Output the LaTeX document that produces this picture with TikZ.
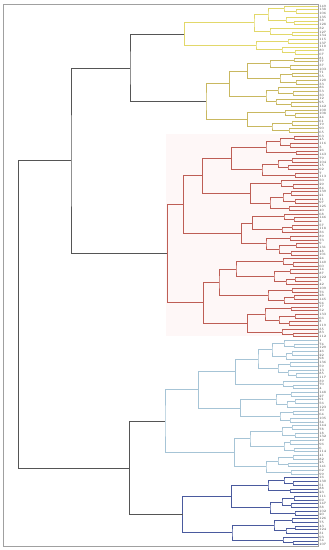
\documentclass[tikz,border=0pt]{standalone}
\usetikzlibrary{calc}
\definecolor{ycol}{HTML}{E2D86A}
\definecolor{kcol}{HTML}{C9B860}
\definecolor{rcol}{HTML}{BE5E55}
\definecolor{bcol}{HTML}{A6C4D6}
\definecolor{ncol}{HTML}{4A5A9E}
\definecolor{gcol}{HTML}{555555}
\definecolor{framecol}{HTML}{A0A0A0}
\definecolor{pinkbg}{HTML}{FEF7F7}
\newcommand\dmerge[4]{%
  \coordinate (#1tmp) at ($(#3)!0.5!(#4)$);
  \coordinate (#1) at (#2,0 |- #1tmp);
  \draw (#3) -| (#1) |- (#4);}
\tikzset{
  lab/.style={font=\fontsize{3.3}{3.3}\selectfont, anchor=west, inner sep=0.2pt, text=black!75, xshift=1pt},
  tree/.style={line width=0.6pt},
  frm/.style={draw=framecol, line width=0.6pt}
}
\begin{document}
\begin{tikzpicture}[x=1pt,y=-1pt]
\useasboundingbox (0,0) rectangle (329,550);
\fill[pinkbg] (166,134) rectangle (318,336);
\draw[frm] (3.3,4) rectangle (318,546);
\foreach \t [count=\c from 0] in {149,138,106,135,58,128,32,127,134,115,137,110,80,67,81,77,37,103,71,55,120,33,86,53,30,12,95,142,100,108,44,61,19,90,65,63,45,116,3,26,143,79,104,15,92,7,113,50,29,84,139,21,11,97,125,40,68,146,2,57,118,36,89,73,9,131,48,101,24,140,60,14,87,122,5,42,109,76,28,145,94,17,52,133,66,8,119,35,83,112,1,74,129,46,22,98,136,59,13,85,117,39,70,4,148,27,91,56,123,10,64,105,34,144,78,18,132,49,96,6,114,41,82,25,141,62,99,16,130,51,88,23,111,69,147,38,102,20,126,75,43,124,31,93,54,107}{
  \coordinate (l\c) at (318,{6+3.714*\c});
  \node[lab] (t\c) at (l\c) {\t};
}
% yellow
\begin{scope}[tree,color=ycol]
\dmerge{y1}{296}{l1}{l2}
\dmerge{y2}{284}{l0}{y1}
\dmerge{y3}{294}{l4}{l5}
\dmerge{y4}{286}{l3}{y3}
\dmerge{y5}{268}{y2}{y4}
\dmerge{y6}{292}{l7}{l8}
\dmerge{y7}{270}{l6}{y6}
\dmerge{y8}{254}{y5}{y7}
\dmerge{y9}{288}{l9}{l10}
\dmerge{y10}{295}{l12}{l13}
\dmerge{y11}{282}{l11}{y10}
\dmerge{y12}{256}{y9}{y11}
\dmerge{Y}{184.3}{y8}{y12}
\end{scope}
% khaki
\begin{scope}[tree,color=kcol]
\dmerge{k1}{294}{l14}{l15}
\dmerge{k2}{290}{l16}{l17}
\dmerge{k3}{270}{k1}{k2}
\dmerge{k4}{292}{l18}{l19}
\dmerge{k5}{296}{l20}{l21}
\dmerge{k6}{280}{k4}{k5}
\dmerge{k7}{247.3}{k3}{k6}
\dmerge{k8}{293}{l23}{l24}
\dmerge{k9}{278}{l22}{k8}
\dmerge{k10}{291}{l26}{l27}
\dmerge{k11}{276}{l25}{k10}
\dmerge{k12}{266}{k9}{k11}
\dmerge{k13}{229.3}{k7}{k12}
\dmerge{k14}{295}{l29}{l30}
\dmerge{k15}{285}{l28}{k14}
\dmerge{k16}{292}{l31}{l32}
\dmerge{k17}{289}{l33}{l34}
\dmerge{k18}{272}{k16}{k17}
\dmerge{k19}{247.7}{k15}{k18}
\dmerge{K}{206}{k13}{k19}
\end{scope}
% red
\begin{scope}[tree,color=rcol]
\dmerge{r1}{294}{l35}{l36}
\dmerge{r2}{290}{l37}{l38}
\dmerge{r3}{280}{r1}{r2}
\dmerge{r4}{296}{l39}{l40}
\dmerge{r5}{266}{r3}{r4}
\dmerge{r6}{292}{l41}{l42}
\dmerge{r7}{288}{l43}{l44}
\dmerge{r8}{278}{r6}{r7}
\dmerge{r9}{295}{l45}{l46}
\dmerge{r10}{262}{r8}{r9}
\dmerge{r11}{231.7}{r5}{r10}
\dmerge{r12}{293}{l48}{l49}
\dmerge{r13}{281}{l47}{r12}
\dmerge{r14}{291}{l50}{l51}
\dmerge{r15}{295}{l52}{l53}
\dmerge{r16}{283}{r14}{r15}
\dmerge{r17}{289}{l54}{l55}
\dmerge{r18}{270}{r16}{r17}
\dmerge{r19}{250.3}{r13}{r18}
\dmerge{r20}{202.3}{r11}{r19}
\dmerge{r21}{294}{l57}{l58}
\dmerge{r22}{284}{l56}{r21}
\dmerge{r23}{292}{l59}{l60}
\dmerge{r24}{282}{r23}{l61}
\dmerge{r25}{252.3}{r22}{r24}
\dmerge{r26}{290}{l62}{l63}
\dmerge{r27}{296}{l64}{l65}
\dmerge{r28}{291}{l66}{l67}
\dmerge{r29}{279}{r27}{r28}
\dmerge{r30}{266}{r26}{r29}
\dmerge{r31}{241.7}{r25}{r30}
\dmerge{r32}{183.3}{r20}{r31}
\dmerge{r33}{293}{l69}{l70}
\dmerge{r34}{283}{l68}{r33}
\dmerge{r35}{290}{l71}{l72}
\dmerge{r36}{295}{l73}{l74}
\dmerge{r37}{286}{r36}{l75}
\dmerge{r38}{274}{r35}{r37}
\dmerge{r39}{236}{r34}{r38}
\dmerge{r40}{292}{l76}{l77}
\dmerge{r41}{294}{l78}{l79}
\dmerge{r42}{284}{r41}{l80}
\dmerge{r43}{268}{r40}{r42}
\dmerge{r44}{219}{r39}{r43}
\dmerge{r45}{291}{l81}{l82}
\dmerge{r46}{295}{l83}{l84}
\dmerge{r47}{289}{l85}{l86}
\dmerge{r48}{279}{r46}{r47}
\dmerge{r49}{265}{r45}{r48}
\dmerge{r50}{293}{l88}{l89}
\dmerge{r51}{282}{l87}{r50}
\dmerge{r52}{247.3}{r49}{r51}
\dmerge{r53}{203.3}{r44}{r52}
\dmerge{R}{167.3}{r32}{r53}
\end{scope}
% light blue
\begin{scope}[tree,color=bcol]
\dmerge{b1}{294}{l91}{l92}
\dmerge{b2}{284}{l90}{b1}
\dmerge{b3}{292}{l93}{l94}
\dmerge{b4}{286}{b3}{l95}
\dmerge{b5}{290}{l96}{l97}
\dmerge{b6a}{296}{l99}{l100}
\dmerge{b6}{288}{l98}{b6a}
\dmerge{b7}{278}{b5}{b6}
\dmerge{b8}{272}{b2}{b4}
\dmerge{b9}{258}{b8}{b7}
\dmerge{b10}{293}{l102}{l103}
\dmerge{b11}{283}{l101}{b10}
\dmerge{b12}{235.7}{b9}{b11}
\dmerge{b13}{291}{l104}{l105}
\dmerge{b14}{295}{l106}{l107}
\dmerge{b15}{287}{b14}{l108}
\dmerge{b16}{276}{b13}{b15}
\dmerge{b17}{293}{l109}{l110}
\dmerge{b18}{290}{l111}{l112}
\dmerge{b19}{280}{b17}{b18}
\dmerge{b20}{240.3}{b16}{b19}
\dmerge{b21}{198.3}{b12}{b20}
\dmerge{b22}{292}{l113}{l114}
\dmerge{b23}{295}{l115}{l116}
\dmerge{b24}{282}{b22}{b23}
\dmerge{b25}{290}{l117}{l118}
\dmerge{b26}{294}{l119}{l120}
\dmerge{b27}{284}{b25}{b26}
\dmerge{b28}{250}{b24}{b27}
\dmerge{b29}{293}{l121}{l122}
\dmerge{b30}{288}{l123}{l124}
\dmerge{b31}{278}{b29}{b30}
\dmerge{b32}{291}{l125}{l126}
\dmerge{b33}{266}{b31}{b32}
\dmerge{b34}{234.7}{b28}{b33}
\dmerge{LB}{165}{b21}{b34}
\end{scope}
% navy
\begin{scope}[tree,color=ncol]
\dmerge{n1}{293}{l128}{l129}
\dmerge{n2}{284}{l127}{n1}
\dmerge{n3}{290}{l130}{l131}
\dmerge{n4}{268}{n2}{n3}
\dmerge{n5}{294}{l132}{l133}
\dmerge{n6}{291}{l134}{l135}
\dmerge{n7}{282}{n5}{n6}
\dmerge{n8}{295}{l136}{l137}
\dmerge{n9}{270}{n7}{n8}
\dmerge{n10}{231.7}{n4}{n9}
\dmerge{n11}{292}{l138}{l139}
\dmerge{n12}{295}{l140}{l141}
\dmerge{n13}{286}{n12}{l142}
\dmerge{n14}{274}{n11}{n13}
\dmerge{n15}{293}{l144}{l145}
\dmerge{n16}{283}{l143}{n15}
\dmerge{n17}{232}{n14}{n16}
\dmerge{N}{182.7}{n10}{n17}
\end{scope}
% gray upper links
\begin{scope}[tree,color=gcol,line width=0.7pt]
\dmerge{YK}{130}{Y}{K}
\dmerge{A}{71}{YK}{R}
\dmerge{B}{129.3}{LB}{N}
\dmerge{root}{18.5}{A}{B}
\end{scope}
\end{tikzpicture}
\end{document}
